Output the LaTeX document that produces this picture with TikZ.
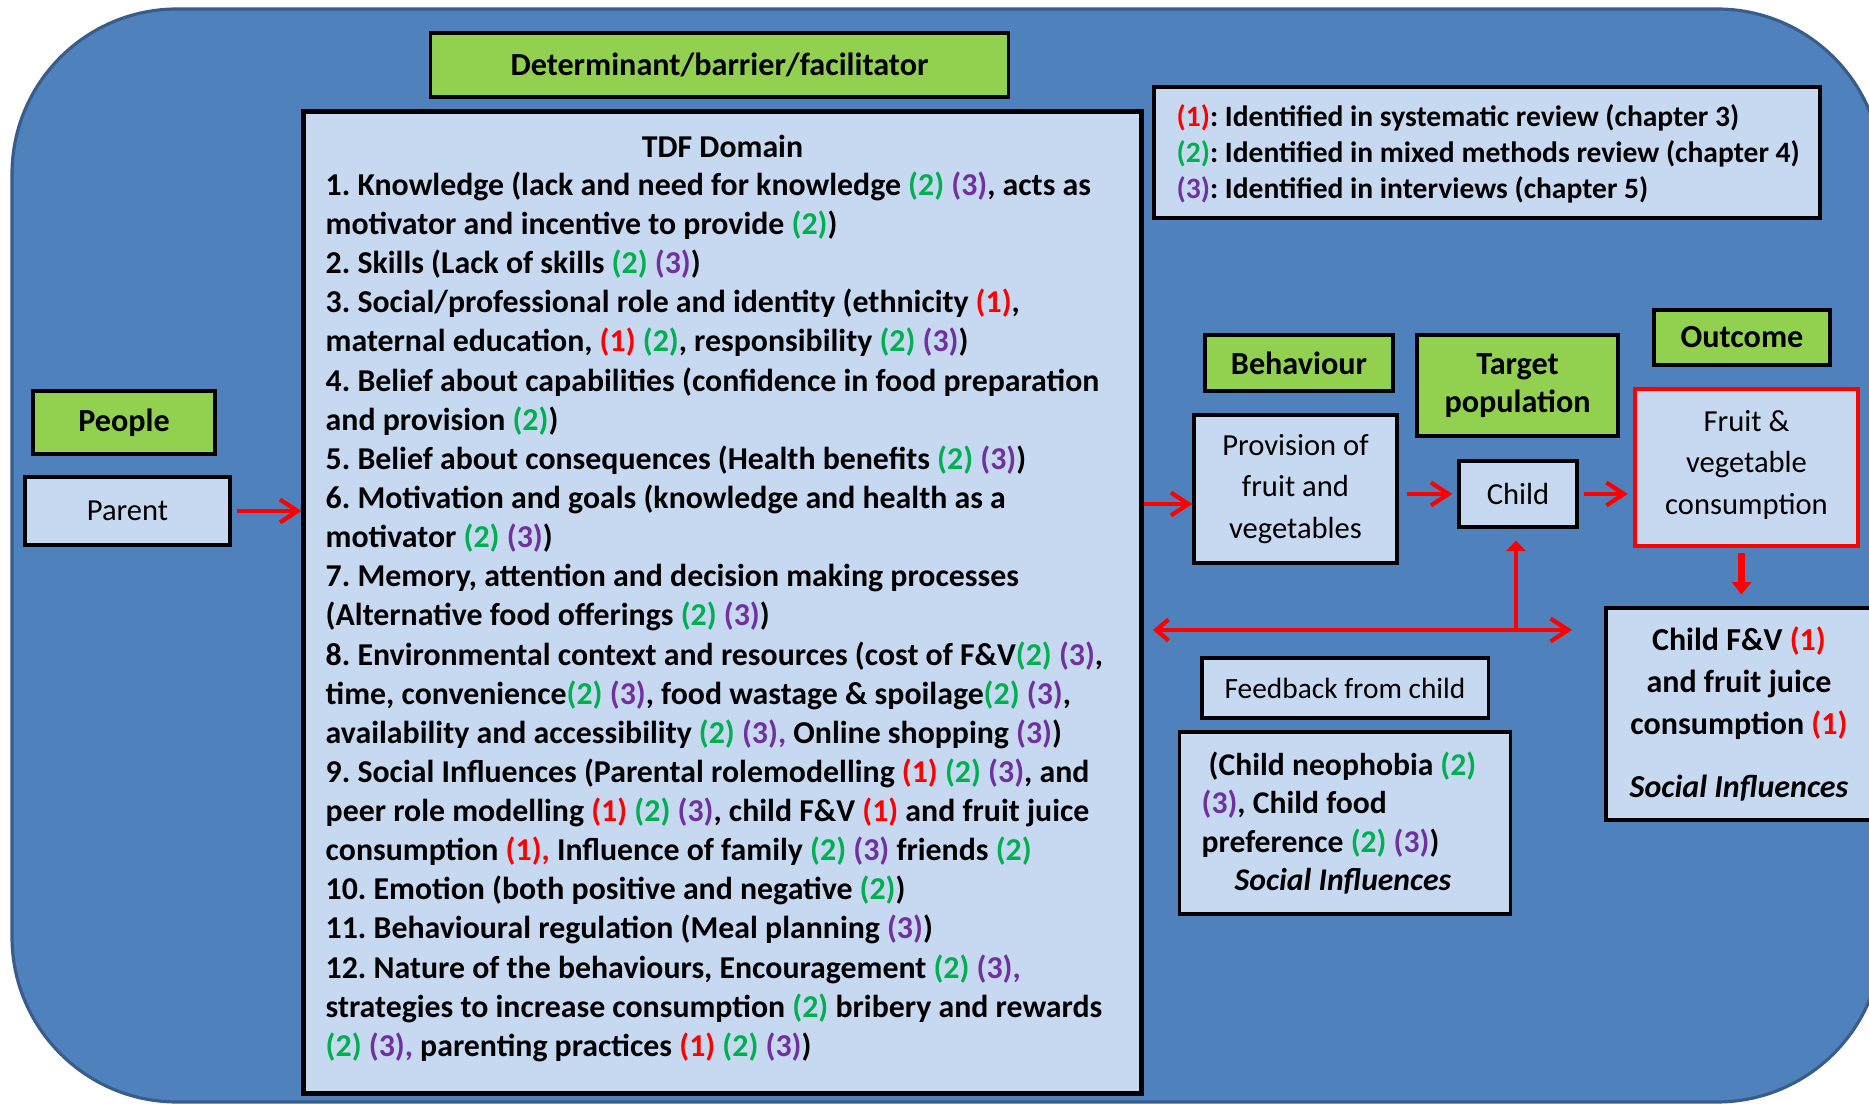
\documentclass[tikz,border=0pt]{standalone}
\usepackage{fontspec}
\setmainfont{Carlito}
\usetikzlibrary{arrows.meta,positioning}
\definecolor{bgblue}{HTML}{4F81BD}
\definecolor{bgedge}{HTML}{385D8A}
\definecolor{boxblue}{HTML}{C6D9F1}
\definecolor{hdgreen}{HTML}{92D050}
\definecolor{srcred}{HTML}{FF0000}
\definecolor{srcgreen}{HTML}{00B050}
\definecolor{srcpurple}{HTML}{7030A0}
\newcommand{\refone}{\textcolor{srcred}{(1)}}
\newcommand{\reftwo}{\textcolor{srcgreen}{(2)}}
\newcommand{\refthree}{\textcolor{srcpurple}{(3)}}
\frenchspacing

\begin{document}
\begin{tikzpicture}[x=0.01cm,y=-0.01cm,
  txt/.style={inner sep=0,align=left,font=\bfseries\fontsize{9.05}{11.13}\selectfont},
  hdr/.style={draw=black,line width=0.9pt,fill=hdgreen,inner sep=0,align=center,
    font=\bfseries\fontsize{9.15}{10.8}\selectfont},
  cell/.style={draw=black,line width=0.9pt,fill=boxblue,inner sep=0,align=center,
    font=\fontsize{8.7}{11.9}\selectfont},
  link/.style={srcred,line width=1.2pt,-{Straight Barb[length=5pt,width=6.5pt]}}]
\useasboundingbox (0,0) rectangle (1869,1104);
\draw[bgedge,line width=0.9pt,fill=bgblue,rounded corners=1.65cm] (12,9) rectangle (1882,1102);
\node[hdr,minimum width=5.77cm,minimum height=0.64cm] (det) at (719.5,65) {Determinant/barrier/facilitator};
\node[hdr,minimum width=1.82cm,minimum height=0.63cm] (people) at (124,422.5) {People};
\node[cell,minimum width=2.05cm,minimum height=0.68cm] (parent) at (127.5,511) {Parent};
\node[cell,line width=1.3pt,minimum width=8.37cm,minimum height=9.81cm] (tdf) at (722.5,602.5) {};
\node[txt] (tdfhead) at (722.5,146) {TDF Domain};
\node[txt,anchor=north west] (tdflist) at (325,171) {%
1. Knowledge (lack and need for knowledge \reftwo{} \refthree, acts as\\
motivator and incentive to provide \reftwo)\\
2. Skills (Lack of skills \reftwo{} \refthree)\\
3. Social/professional role and identity (ethnicity \refone,\\
maternal education, \refone{} \reftwo, responsibility \reftwo{} \refthree)\\
4. Belief about capabilities (confidence in food preparation\\
and provision \reftwo)\\
5. Belief about consequences (Health benefits \reftwo{} \refthree)\\
6. Motivation and goals (knowledge and health as a\\
motivator \reftwo{} \refthree)\\
7. Memory, attention and decision making processes\\
(Alternative food offerings \reftwo{} \refthree)\\
8. Environmental context and resources (cost of F\&V\reftwo{} \refthree,\\
time, convenience\reftwo{} \refthree, food wastage \& spoilage\reftwo{} \refthree,\\
availability and accessibility \reftwo{} \textcolor{srcpurple}{(3),} Online shopping \refthree)\\
9. Social Influences (Parental rolemodelling \refone{} \reftwo{} \refthree, and\\
peer role modelling \refone{} \reftwo{} \refthree, child F\&V \refone{} and fruit juice\\
consumption \textcolor{srcred}{(1),} Influence of family \reftwo{} \refthree{} friends \reftwo\\
10. Emotion (both positive and negative \reftwo)\\
11. Behavioural regulation (Meal planning \refthree)\\
12. Nature of the behaviours, Encouragement \reftwo{} \textcolor{srcpurple}{(3),}\\
strategies to increase consumption \reftwo{} bribery and rewards\\
\reftwo{} \textcolor{srcpurple}{(3),} parenting practices \refone{} \reftwo{} \refthree)};
\node[cell,line width=1.3pt,minimum width=6.66cm,minimum height=1.31cm] (legend) at (1487,152.5) {};
\node[txt,font=\bfseries\fontsize{8.4}{10.2}\selectfont,anchor=west] (legendtext) at (1176,154) {%
\refone: Identified in systematic review (chapter 3)\\
\reftwo: Identified in mixed methods review (chapter 4)\\
\refthree: Identified in interviews (chapter 5)};
\node[hdr,minimum width=1.88cm,minimum height=0.56cm] (behaviour) at (1299,363) {Behaviour};
\node[hdr,minimum width=2.01cm,minimum height=1.01cm] (target) at (1517.5,385.5) {Target\\population};
\node[hdr,minimum width=1.76cm,minimum height=0.55cm] (outcome) at (1742,337.5) {Outcome};
\node[cell,minimum width=2.03cm,minimum height=1.48cm] (provision) at (1295.5,489) {Provision of\\fruit and\\vegetables};
\node[cell,minimum width=1.18cm,minimum height=0.66cm] (child) at (1518,494) {Child};
\node[cell,draw=srcred,line width=1.2pt,minimum width=2.23cm,minimum height=1.57cm,text depth=0.6ex] (fruit) at (1746.5,467.5) {Fruit \&\\vegetable\\consumption};
\node[cell,font=\bfseries\fontsize{9.1}{11.9}\selectfont,minimum width=2.66cm,minimum height=2.12cm] (childfv) at (1739,714) {Child F\&V \refone\\and fruit juice\\consumption \refone\\[6pt]\textit{Social Influences}};
\node[cell,font=\fontsize{8.35}{10}\selectfont,minimum width=2.86cm,minimum height=0.6cm] (feedback) at (1345,688) {Feedback from child};
\node[cell,minimum width=3.30cm,minimum height=1.82cm] (neophobia) at (1345,823) {};
\node[txt,font=\bfseries\fontsize{9}{10.9}\selectfont,anchor=west] (neophobiatext) at (1201,823) {%
\hspace*{2pt}(Child neophobia \reftwo\\\refthree, Child food\\preference \reftwo{} \refthree)\\\hspace*{0.33cm}\textit{Social Influences}};
\coordinate (fbleft) at (1153,630);
\coordinate (fbjoin) at (1516,630);
\coordinate (fbright) at (1572,630);
\draw[link,shorten <=0.05cm] (parent.east) -- (parent.east -| tdf.west);
\draw[link] ([yshift=-0.15cm]tdf.east |- provision.west) -- ([yshift=-0.15cm]provision.west);
\draw[link,shorten <=0.08cm,shorten >=0.05cm] (provision.east |- child.west) -- (child.west);
\draw[link,shorten <=0.05cm,shorten >=0.05cm] (child.east) -- (child.east -| fruit.west);
\draw[srcred,line width=1.8pt,-{Triangle[length=3.5pt,width=5.5pt]},shorten <=0.05cm,shorten >=0.12cm] ([xshift=-0.05cm]fruit.south) -- ([xshift=-0.05cm]fruit.south |- childfv.north);
\draw[srcred,line width=1.2pt,{Straight Barb[length=3.5pt,width=6pt]}-{Straight Barb[length=5pt,width=6.5pt]}] (fbleft) -- (fbright);
\draw[srcred,line width=1.2pt,-{Triangle[length=3pt,width=5.5pt]},shorten >=0.12cm] (fbjoin) -- (fbjoin |- child.south);
\end{tikzpicture}
\end{document}
